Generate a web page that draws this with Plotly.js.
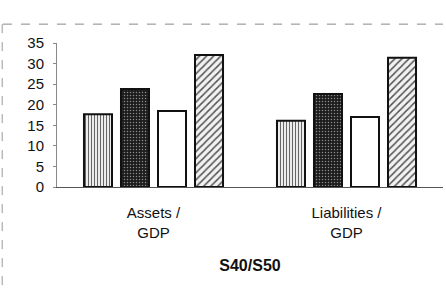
<!DOCTYPE html>
<html>
<head>
<meta charset="utf-8">
<script src="https://cdn.plot.ly/plotly-3.0.1.min.js"></script>
<style>html,body{margin:0;padding:0;background:#fff;}#chart{width:446px;height:291px;}</style>
</head>
<body>
<div id="chart"></div>
<script>
var categories = ["Assets /<br>GDP", "Liabilities /<br>GDP"];
var series1 = [17.7, 16.1];
var series2 = [23.8, 22.6];
var series3 = [18.5, 17.0];
var series4 = [32.1, 31.4];
var yTicks = [0, 5, 10, 15, 20, 25, 30, 35];
var xTitle = "S40/S50";

var line = {color: '#111', width: 2};
var traces = [
  {type: 'bar', x: categories, y: series1, marker: {color: '#e6e6e6', line: line,
    pattern: {shape: '|', fgcolor: '#666', bgcolor: '#ececec', size: 3, solidity: 0.35}}},
  {type: 'bar', x: categories, y: series2, marker: {color: '#1e1e1e', line: line,
    pattern: {shape: '.', fgcolor: '#8a8a8a', bgcolor: '#1c1c1c', size: 3, solidity: 0.2}}},
  {type: 'bar', x: categories, y: series3, marker: {color: '#ffffff', line: line}},
  {type: 'bar', x: categories, y: series4, marker: {color: '#f0f0f0', line: line,
    pattern: {shape: '/', fgcolor: '#555', bgcolor: '#f2f2f2', size: 5, solidity: 0.3}}}
];

var layout = {
  width: 446, height: 291,
  margin: {l: 57, r: 3, t: 43, b: 104},
  paper_bgcolor: '#fff', plot_bgcolor: '#fff',
  showlegend: false,
  barmode: 'group', bargap: 0.233, bargroupgap: 0.243,
  font: {family: 'Liberation Sans, Arial, sans-serif', color: '#111'},
  xaxis: {
    type: 'category', range: [-0.5, 1.5],
    showline: true, linecolor: '#555', linewidth: 1,
    ticks: '', showgrid: false, zeroline: false,
    ticklabelstandoff: 12,
    tickfont: {size: 15, color: '#111'},
    title: {text: '<b>' + xTitle + '</b>', font: {size: 16, color: '#111'}, standoff: 20}
  },
  yaxis: {
    range: [0, 35], tickvals: yTicks, ticktext: yTicks.map(String),
    showline: true, linecolor: '#888', linewidth: 1,
    ticks: 'outside', ticklen: 3, tickcolor: '#888',
    ticklabelstandoff: 6,
    showgrid: false, zeroline: false,
    tickfont: {size: 15, color: '#111'}
  },
  shapes: [
    {type: 'line', xref: 'paper', yref: 'paper', x0: -0.14, x1: 1.0, y0: 1.131, y1: 1.131,
     line: {color: '#888', width: 1, dash: 'dash'}},
    {type: 'line', xref: 'paper', yref: 'paper', x0: -0.142, x1: -0.142, y0: 1.131, y1: -0.72,
     line: {color: '#999', width: 1, dash: 'dash'}}
  ]
};

Plotly.newPlot('chart', traces, layout, {displayModeBar: false, staticPlot: true});
</script>
</body>
</html>
